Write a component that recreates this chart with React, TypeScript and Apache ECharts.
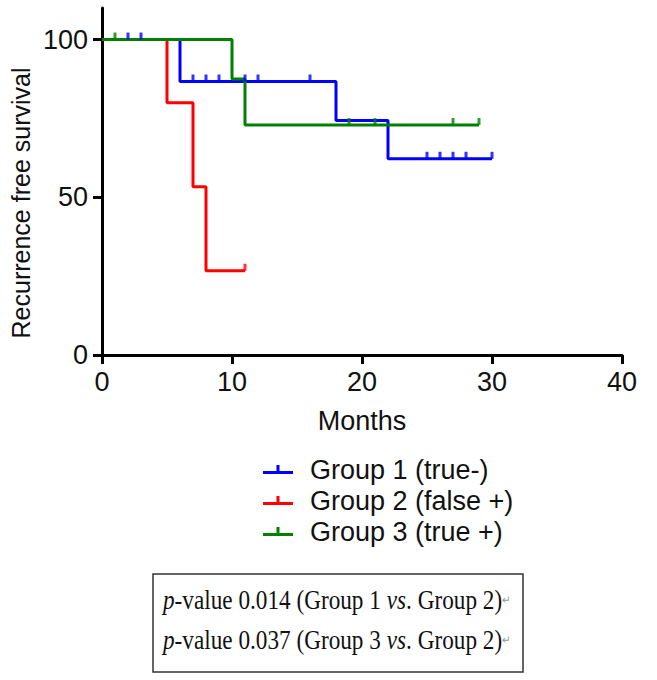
import React, { useEffect, useRef } from "react";
import * as echarts from "echarts";

const xTicks = [0, 10, 20, 30, 40];
const yTicks = [0, 50, 100];
const seriesNames = ["Group 1 (true-)", "Group 2 (false +)", "Group 3 (true +)"];
const seriesColors = ["#0000FF", "#FF0000", "#008000"];

const group1Steps = [[0, 100], [6, 86.7], [18, 74.3], [22, 62.2], [30, 62.2]];
const group1Censored = [[2, 100], [3, 100], [7, 86.7], [8, 86.7], [9, 86.7], [11, 86.7], [12, 86.7], [16, 86.7], [25, 62.2], [26, 62.2], [27, 62.2], [28, 62.2], [30, 62.2]];
const group2Steps = [[0, 100], [5, 80], [7, 53.3], [8, 26.7], [11, 26.7]];
const group2Censored = [[11, 26.7]];
const group3Steps = [[0, 100], [10, 87.5], [11, 72.9], [29, 72.9]];
const group3Censored = [[1, 100], [19, 72.9], [21, 72.9], [27, 72.9], [29, 72.9]];

const pValues = ["0.014", "0.037"];
const comparisons = [["Group 1", "Group 2"], ["Group 3", "Group 2"]];

const NARROW = "'Liberation Sans Narrow', 'Arial Narrow', sans-serif";
const SERIF = "'Liberation Serif', 'Times New Roman', serif";

export default function App() {
  const ref = useRef<HTMLDivElement>(null);
  useEffect(() => {
    if (!ref.current) return;
    const chart = echarts.init(ref.current, undefined, { renderer: "svg" });
    const steps = [group1Steps, group2Steps, group3Steps];
    const cens = [group1Censored, group2Censored, group3Censored];
    const series: any[] = [];
    seriesNames.forEach((name, i) => {
      series.push({
        type: "line",
        name,
        data: steps[i],
        step: "end",
        showSymbol: false,
        lineStyle: { width: 3, color: seriesColors[i] },
        itemStyle: { color: seriesColors[i] },
        z: 2 + i,
      });
    });
    seriesNames.forEach((name, i) => {
      series.push({
        type: "scatter",
        name,
        data: cens[i],
        symbol: "rect",
        symbolSize: [3, 7],
        symbolOffset: [0, -3.5],
        itemStyle: { color: seriesColors[i] },
        z: 5,
      });
    });
    const boxTexts = pValues.map((p, i) => ({
      type: "text",
      x: 163,
      y: i === 0 ? 600 : 640,
      scaleX: 0.86,
      style: {
        text: `{i|p}-value ${p} (${comparisons[i][0]} {i|vs}. ${comparisons[i][1]}){r|↵}`,
        rich: {
          i: { fontStyle: "italic", fontFamily: SERIF, fontSize: 27, fill: "#111" },
          r: { fontSize: 12, fill: "#999", fontFamily: SERIF },
        },
        fontFamily: SERIF,
        fontSize: 27,
        fill: "#111",
        verticalAlign: "middle",
      },
    }));
    chart.setOption({
      animation: false,
      grid: { left: 102, right: 35, top: 8, bottom: 325 },
      xAxis: {
        type: "value",
        min: 0,
        max: 40,
        interval: 10,
        axisLine: { show: true, lineStyle: { color: "#000", width: 3 } },
        axisTick: { show: true, length: 9, lineStyle: { color: "#000", width: 3 } },
        axisLabel: { fontSize: 27, color: "#111", margin: 13, fontFamily: NARROW, customValues: xTicks },
        splitLine: { show: false },
        name: "Months",
        nameLocation: "middle",
        nameGap: 52,
        nameTextStyle: { fontSize: 27, color: "#111", fontFamily: NARROW },
      },
      yAxis: {
        type: "value",
        min: 0,
        max: 110,
        axisLine: { show: true, lineStyle: { color: "#000", width: 3 } },
        axisTick: { show: true, length: 9, lineStyle: { color: "#000", width: 3 }, customValues: yTicks },
        axisLabel: { fontSize: 27, color: "#111", margin: 14, fontFamily: NARROW, customValues: yTicks },
        splitLine: { show: false },
      },
      legend: {
        orient: "vertical",
        left: 258,
        top: 451,
        itemWidth: 30,
        itemHeight: 9,
        itemGap: 4,
        icon: "path://M0,6h30v3h-30z M13.5,0h3v6h-3z",
        data: seriesNames,
        textStyle: { fontSize: 27, color: "#111", fontFamily: NARROW, lineHeight: 27, padding: [0, 0, 0, 12] },
      },
      graphic: [
        {
          type: "text",
          x: 21,
          y: 203,
          rotation: Math.PI / 2,
          style: {
            text: "Recurrence free survival",
            fontSize: 25,
            fontFamily: NARROW,
            fill: "#111",
            align: "center",
            verticalAlign: "middle",
          },
        },
        {
          type: "rect",
          shape: { x: 153, y: 574, width: 370, height: 98 },
          style: { fill: "none", stroke: "#333", lineWidth: 1.5 },
        },
        ...boxTexts,
      ],
      series,
    });
    return () => chart.dispose();
  }, []);
  return <div ref={ref} style={{ position: "absolute", left: 0, top: 0, width: 657, height: 680 }} />;
}
